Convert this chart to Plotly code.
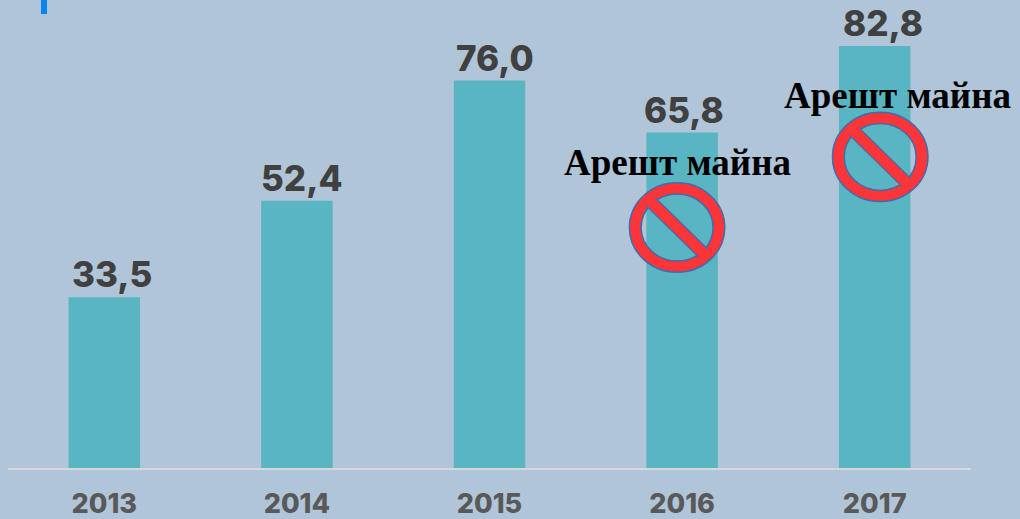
import plotly.graph_objects as go

years = ["2013", "2014", "2015", "2016", "2017"]
values = [33.5, 52.4, 76.0, 65.8, 82.8]
label_shift = [8, 5, 5, 2, 8]
arrest_years = ["2016", "2017"]
arrest_label = "Арешт майна"

BG = "#b0c5d7"
BAR = "#58b5c1"
RED = "#fb3538"
BLUE = "#3f6db0"

fig = go.Figure(go.Bar(
    x=years, y=values, width=0.371,
    marker=dict(color=BAR, line=dict(width=0)),
))

fig.update_layout(
    width=1020, height=519, margin=dict(l=8, r=49, t=0, b=51, autoexpand=False),
    paper_bgcolor=BG, plot_bgcolor=BG, showlegend=False,
    xaxis=dict(type="category", categoryorder="array", categoryarray=years, range=[-0.5, 4.5],
               showgrid=False, ticks="", showline=True, automargin=False,
               linecolor="#d5d9db", linewidth=2, ticklabelstandoff=11,
               tickfont=dict(family="Inter", size=27, color="#595959", weight=800)),
    yaxis=dict(visible=False, range=[0, 91.8], automargin=False),
)

for i, v in enumerate(values):
    fig.add_annotation(x=i, y=v, xref="x", yref="y", text=f"{v:.1f}".replace(".", ","),
                       showarrow=False, yanchor="bottom", xshift=label_shift[i], yshift=0,
                       font=dict(family="Inter", size=35, color="#404040", weight=800))

# sign offsets relative to the top of each bar: (dx, dy up), label offset (dx, dy up)
offsets = {"2016": (-5, -95, -5, -30), "2017": (5.5, -111, 23, -50)}

def ellipse(xa, ya, cx, cy, rx, ry, **line):
    fig.add_shape(type="circle", xref="x", yref="y", xsizemode="pixel", ysizemode="pixel",
                  xanchor=xa, yanchor=ya, x0=cx-rx, x1=cx+rx, y0=cy-ry, y1=cy+ry,
                  line=line, layer="above")

for yr in arrest_years:
    i = years.index(yr)
    v = values[i]
    dx, dy, tx, ty = offsets[yr]
    ellipse(i, v, dx, dy, 42, 39, color=RED, width=12)
    ellipse(i, v, dx, dy, 47.7, 44.7, color=BLUE, width=1.5)
    ellipse(i, v, dx, dy, 36, 33.5, color=BLUE, width=1.5)
    c = [(-31, 22), (-22, 30), (31, -22), (22, -30)]
    pts = [(dx+a, dy+b) for a, b in c]
    path = f"M{pts[0][0]},{pts[0][1]} L{pts[1][0]},{pts[1][1]} L{pts[2][0]},{pts[2][1]} L{pts[3][0]},{pts[3][1]} Z"
    fig.add_shape(type="path", xref="x", yref="y", xsizemode="pixel", ysizemode="pixel",
                  xanchor=i, yanchor=v, path=path, fillcolor=RED, line=dict(width=0), layer="above")
    for (p, q) in ((pts[0], pts[3]), (pts[1], pts[2])):
        fig.add_shape(type="line", xref="x", yref="y", xsizemode="pixel", ysizemode="pixel",
                      xanchor=i, yanchor=v, x0=p[0], y0=p[1], x1=q[0], y1=q[1],
                      line=dict(color=BLUE, width=1.2), layer="above")
    fig.add_annotation(x=i, y=v, xref="x", yref="y", text=arrest_label, showarrow=False,
                       xshift=tx, yshift=ty,
                       font=dict(family="Liberation Serif", size=37, color="#000000", weight="bold"))

# blue fragment at the top edge
fig.add_shape(type="rect", xref="paper", yref="paper", x0=33/963, x1=39/963, y0=0.97, y1=1.02,
              fillcolor="#0a84ee", line=dict(width=0), layer="above")

fig.write_html("out.html", config={"displayModeBar": False},
               post_script="document.body.style.margin='0';")
